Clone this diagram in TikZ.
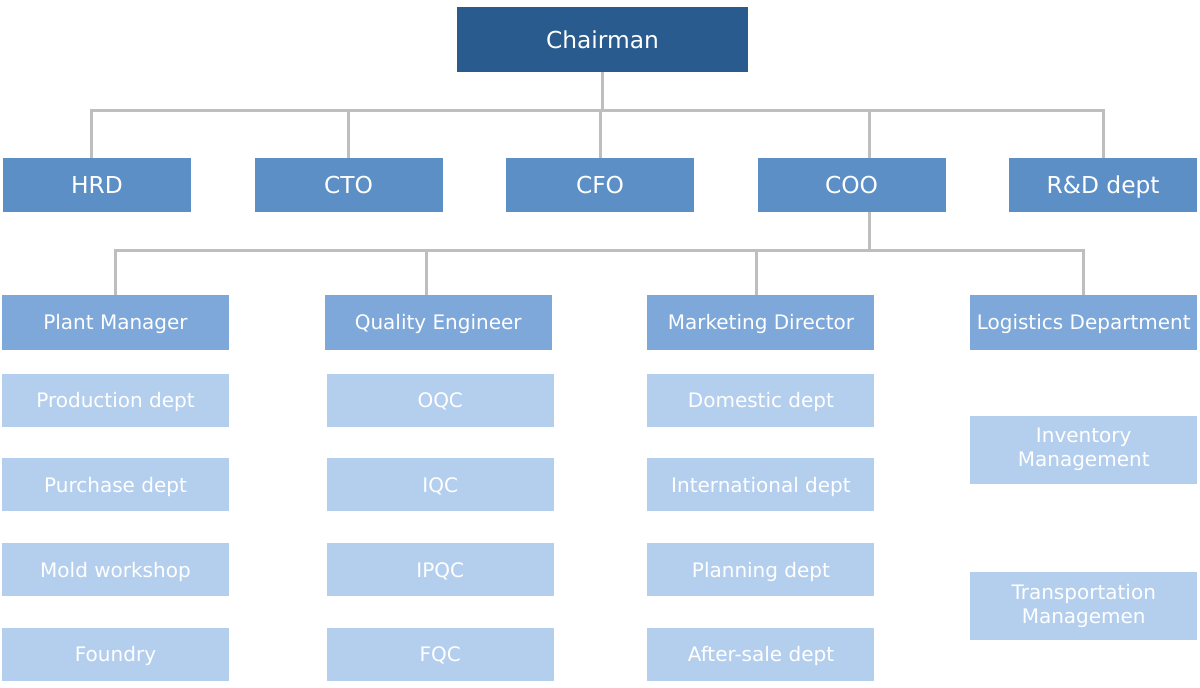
\documentclass[tikz,border=0pt]{standalone}
\usepackage{fontspec}
\setmainfont{DejaVu Sans}
\usepackage{xcolor}
\usepackage{tikz}
\usetikzlibrary{positioning}

\definecolor{azul_escuro}{HTML}{2A5B8F}
\definecolor{azul_medio}{HTML}{5B8FC6}
\definecolor{azul_claro}{HTML}{7DA8D9}
\definecolor{azul_palido}{HTML}{B4CFEE}
\definecolor{cinza_linha}{HTML}{BEBEBE}

\begin{document}
\begin{tikzpicture}[
            x=0.75pt, y=0.75pt,
            node distance=17.25pt and 71.4pt,
            caixa/.style={
                rectangle, inner sep=0pt, text=white, align=center,
                font=\fontsize{15}{18}\selectfont
            },
            linha_grande/.style={text height=16.6pt, text depth=3.85pt},
            linha_pequena/.style={text height=14.25pt, text depth=3.3pt},
            caixa_topo/.style={
                caixa, linha_grande, fill=azul_escuro, font=\fontsize{17.5}{20}\selectfont,
                minimum width=218.25pt, minimum height=48.75pt
            },
            caixa_diretoria/.style={
                caixa, linha_grande, fill=azul_medio, font=\fontsize{17.5}{20}\selectfont,
                minimum width=141pt, minimum height=40.5pt
            },
            caixa_gerencia/.style={
                caixa, linha_pequena, fill=azul_claro,
                minimum width=170.25pt, minimum height=41.25pt
            },
            caixa_setor/.style={
                caixa, linha_pequena, fill=azul_palido,
                minimum width=170.25pt, minimum height=39.75pt
            },
            caixa_setor_alta/.style={
                caixa, fill=azul_palido,
                minimum width=170.25pt, minimum height=51pt
            },
            linha/.style={draw=cinza_linha, line width=2.25pt}
        ]
            \useasboundingbox (0,0) rectangle (1200,-687);

            % --- Topo ---
            \node[caixa_topo] (chairman) at (602.5,-39.5) {Chairman};

            % --- Diretoria ---
            \node[caixa_diretoria] (hrd) at (97,-185) {HRD};
            \node[caixa_diretoria, right=47.25pt of hrd] (cto) {CTO};
            \node[caixa_diretoria, right=47.25pt of cto] (cfo) {CFO};
            \node[caixa_diretoria, right=47.25pt of cfo] (coo) {COO};
            \node[caixa_diretoria, right=47.25pt of coo] (rd_dept) {R\&D dept};

            \draw[linha] (chairman.south) -- ++(0,-38) coordinate (barra_dir);
            \draw[linha] ([xshift=-4.5pt]hrd.north) |- (rd_dept.north |- barra_dir) -- (rd_dept.north);
            \foreach \n in {cto, cfo}
                \draw[linha] (barra_dir -| \n.north) -- (\n.north);
            \draw[linha] ([xshift=13.5pt]coo.north) |- (barra_dir);

            % --- Gerencia (abaixo do COO) ---
            \node[caixa_gerencia] (plant_mgr) at (115.5,-322.5) {Plant Manager};
            \node[caixa_gerencia, right=of plant_mgr] (quality_eng) {Quality Engineer};
            \node[caixa_gerencia, right=of quality_eng] (mkt_dir) {Marketing Director};
            \node[caixa_gerencia, right=of mkt_dir] (logistics) {Logistics Department};

            \draw[linha] ([xshift=13.5pt]coo.south) -- ++(0,-38) coordinate (barra_ger);
            \draw[linha] (plant_mgr.north) |- (logistics.north |- barra_ger) -- (logistics.north);
            \draw[linha] ([xshift=-8.5pt]quality_eng.north) |- (barra_ger);
            \draw[linha] ([xshift=-3.5pt]mkt_dir.north) |- (barra_ger);

            % --- Setores: Plant Manager ---
            \node[caixa_setor, below=of plant_mgr] (prod_dept) {Production dept};
            \node[caixa_setor, below=23.5pt of prod_dept] (purch_dept) {Purchase dept};
            \node[caixa_setor, below=23.5pt of purch_dept] (mold_shop) {Mold workshop};
            \node[caixa_setor, below=23.5pt of mold_shop] (foundry) {Foundry};

            % --- Setores: Quality Engineer ---
            \node[caixa_setor, below=of quality_eng, xshift=1.5pt] (oqc) {OQC};
            \node[caixa_setor, below=23.5pt of oqc] (iqc) {IQC};
            \node[caixa_setor, below=23.5pt of iqc] (ipqc) {IPQC};
            \node[caixa_setor, below=23.5pt of ipqc] (fqc) {FQC};

            % --- Setores: Marketing Director ---
            \node[caixa_setor, below=of mkt_dir] (dom_dept) {Domestic dept};
            \node[caixa_setor, below=23.5pt of dom_dept] (intl_dept) {International dept};
            \node[caixa_setor, below=23.5pt of intl_dept] (plan_dept) {Planning dept};
            \node[caixa_setor, below=23.5pt of plan_dept] (after_dept) {After-sale dept};

            % --- Setores: Logistics ---
            \node[caixa_setor_alta, below=48.75pt of logistics] (inventory) {Inventory\\Management};
            \node[caixa_setor_alta, below=66pt of inventory] (transport) {Transportation\\Managemen};

        \end{tikzpicture}
\end{document}
